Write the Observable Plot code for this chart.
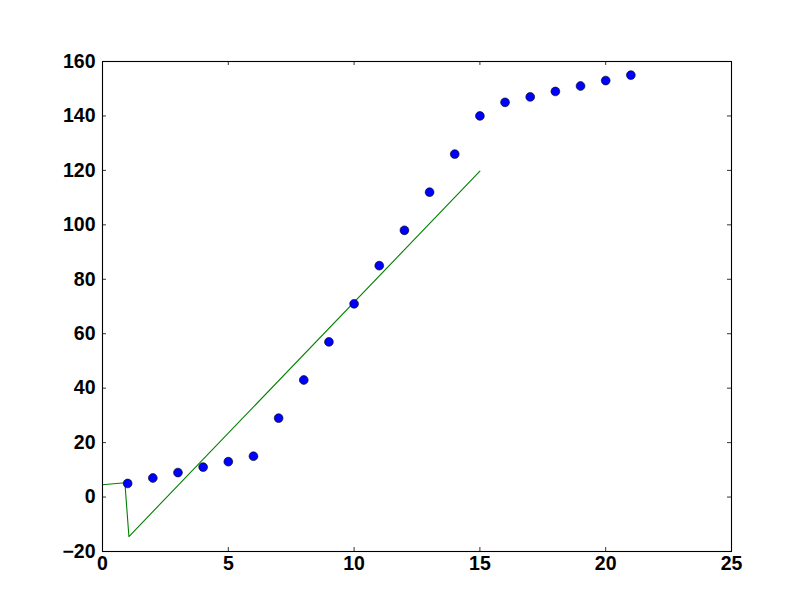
<!DOCTYPE html>
<html>
<head>
<meta charset="utf-8">
<script src="https://cdn.jsdelivr.net/npm/d3@7"></script>
<script src="https://cdn.jsdelivr.net/npm/@observablehq/plot@0.6"></script>
<style>
  html, body { margin: 0; padding: 0; background: #fff; }
  #chart svg { display: block; }
</style>
</head>
<body>
<div id="chart"></div>
<script>
// Data
const pointX = [1, 2, 3, 4, 5, 6, 7, 8, 9, 10, 11, 12, 13, 14, 15, 16, 17, 18, 19, 20, 21];
const pointY = [5, 7, 9, 11, 13, 15, 29, 43, 57, 71, 85, 98, 112, 126, 140, 145, 147, 149, 151, 153, 155];
const lineX = [0, 0.89, 1.05, 15];
const lineY = [4.5, 5.25, -14.5, 119.7];
const xTicks = [0, 5, 10, 15, 20, 25];
const yTicks = [-20, 0, 20, 40, 60, 80, 100, 120, 140, 160];

const points = pointX.map((x, i) => ({x, y: pointY[i]}));
const line = lineX.map((x, i) => ({x, y: lineY[i]}));

const W = 812, H = 612;
const mL = 102, mR = 81, mT = 61, mB = 61;
const fw = W - mL - mR, fh = H - mT - mB;
const tk = 4;
const FONT = "'Liberation Sans', Arial, Helvetica, sans-serif";
const FS = "19.5px";

const chart = Plot.plot({
  width: W,
  height: H,
  marginLeft: mL,
  marginRight: mR,
  marginTop: mT,
  marginBottom: mB,
  style: {fontFamily: FONT, fontWeight: "bold", fontSize: FS, color: "#000", background: "#fff"},
  x: {domain: [0, 25], label: null},
  y: {domain: [-20, 160], label: null},
  marks: [
    Plot.line(line, {x: "x", y: "y", stroke: "#008000", strokeWidth: 1.1}),
    Plot.dot(points, {x: "x", y: "y", r: 4.4, fill: "#0000ff", stroke: "#000", strokeWidth: 0.6}),
    // inward ticks on all four sides
    Plot.tickX(xTicks, {x: d => d, insetTop: fh - tk, stroke: "#000", strokeWidth: 0.8}),
    Plot.tickX(xTicks, {x: d => d, insetBottom: fh - tk, stroke: "#000", strokeWidth: 0.8}),
    Plot.tickY(yTicks, {y: d => d, insetRight: fw - tk, stroke: "#000", strokeWidth: 0.8}),
    Plot.tickY(yTicks, {y: d => d, insetLeft: fw - tk, stroke: "#000", strokeWidth: 0.8}),
    Plot.axisX(xTicks, {anchor: "bottom", tickSize: 0, tickPadding: 5, fontSize: FS, fontWeight: "bold", label: null}),
    Plot.axisY(yTicks, {anchor: "left", tickSize: 0, tickPadding: 7, fontSize: FS, fontWeight: "bold", label: null}),
    Plot.frame({stroke: "#000", strokeWidth: 1.1})
  ]
});
document.getElementById("chart").appendChild(chart);
</script>
</body>
</html>
